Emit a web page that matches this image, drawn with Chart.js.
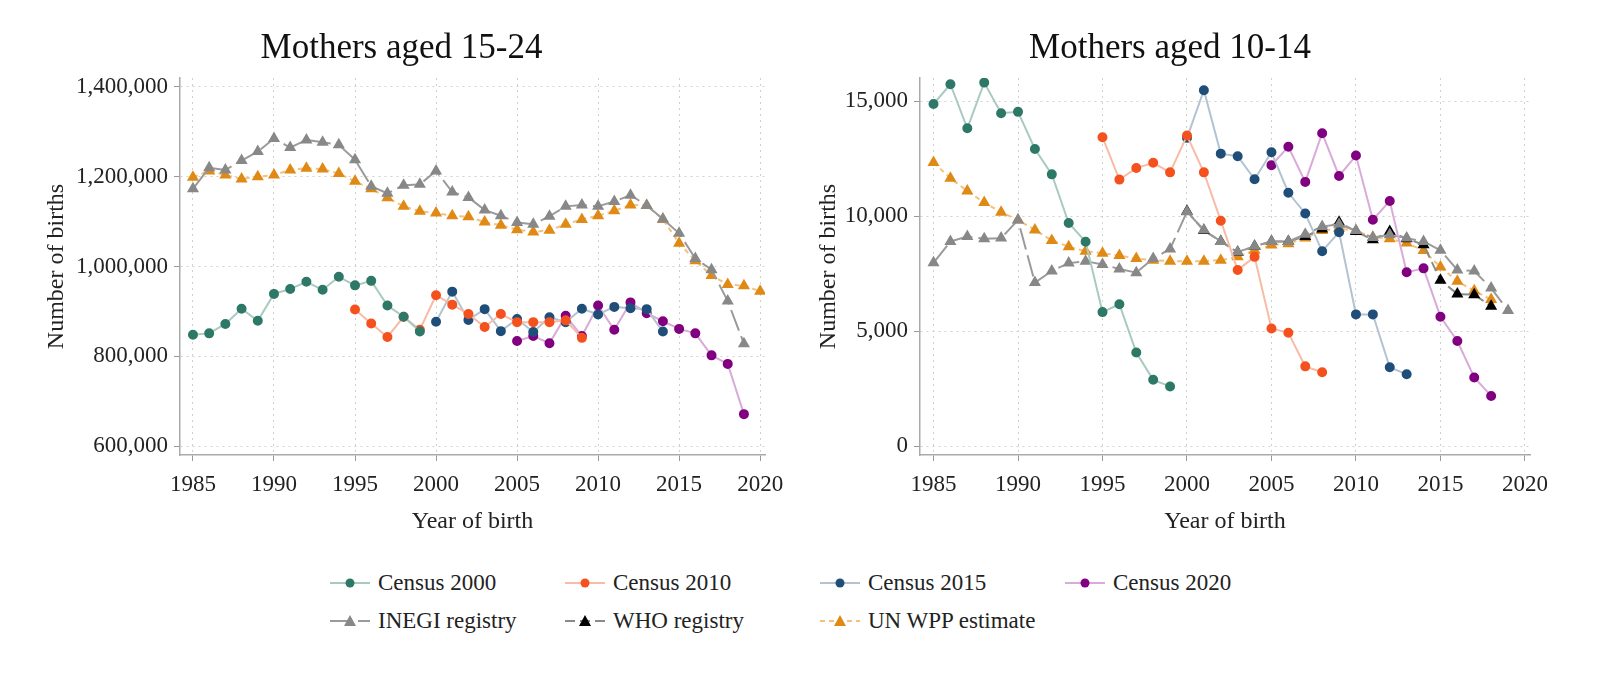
<!DOCTYPE html>
<html><head><meta charset="utf-8">
<script src="https://cdn.jsdelivr.net/npm/chart.js@4"></script>
<style>
body{margin:0;background:#fff;width:1600px;height:680px;position:relative;overflow:hidden;font-family:'Liberation Serif',serif}
.c{position:absolute;top:0;height:540px;width:800px}
.lg{position:absolute;font-size:23px;color:#222;display:flex;align-items:center;height:30px}
.lg svg{margin-right:8px}
</style></head><body>
<div class="c" style="left:0"><canvas id="a" width="800" height="540"></canvas></div>
<div class="c" style="left:800px"><canvas id="b" width="800" height="540"></canvas></div>
<div id="legend"></div>
<script>
// Left panel: mothers aged 15-24
const L_census2000 = [848,851,872,906,879,939,950,966,948,977,958,968,913,888,855].map(v=>v*1000);
const L_census2010 = [904,873,843,888,859,936,915,894,865,894,876,876,876,880,841].map(v=>v*1000);
const L_census2015 = [877,944,881,905,856,883,854,887,876,906,893,910,907,905,855].map(v=>v*1000);
const L_census2020 = [834,845,829,890,845,913,859,920,896,878,861,851,802,783,671].map(v=>v*1000);
const L_inegi = [1173,1220,1215,1236,1256,1285,1265,1282,1277,1271,1238,1179,1163,1181,1183,1213,1166,1154,1126,1113,1098,1094,1112,1134,1137,1134,1145,1159,1136,1106,1074,1018,993,923,828].map(v=>v*1000);
const L_unwpp = [1199,1213,1204,1195,1200,1204,1215,1219,1217,1207,1190,1173,1153,1134,1123,1119,1113,1111,1099,1092,1082,1077,1081,1094,1105,1113,1124,1137,1136,1105,1052,1013,980,960,957,945].map(v=>v*1000);
// Right panel: mothers aged 10-14
const R_census2000 = [14871,15729,13814,15800,14471,14529,12914,11814,9700,8886,5829,6171,4071,2886,2600];
const R_census2010 = [13429,11586,12086,12314,11900,13500,11900,9800,7657,8229,5114,4929,3471,3214];
const R_census2015 = [13400,15471,12714,12600,11600,12771,11014,10114,8471,9300,5729,5729,3429,3129];
const R_census2020 = [12214,13014,11486,13600,11743,12629,9843,10657,7557,7729,5629,4571,2986,2186];
const R_inegi = [7971,8900,9114,9014,9043,9829,7114,7614,7957,8043,7900,7700,7543,8157,8571,10186,9400,8900,8443,8686,8900,8900,9214,9543,9643,9371,9071,9186,9043,8900,8514,7657,7614,6871,5900];
const R_who = [10214,9371,8900,8429,8686,8900,8900,9114,9443,9729,9329,8971,9329,9014,8757,7214,6614,6586,6086];
const R_unwpp = [12329,11643,11086,10586,10171,9829,9400,8943,8671,8471,8386,8286,8157,8086,8043,8043,8043,8086,8229,8514,8743,8800,9043,9371,9471,9357,9086,9014,8829,8500,7786,7171,6757,6371];
const xTicks = [1985,1990,1995,2000,2005,2010,2015,2020];
const L_yTicks = [600000,800000,1000000,1200000,1400000];
const R_yTicks = [0,5000,10000,15000];

const pts=(start,arr)=>arr.map((v,i)=>({x:start+i,y:v}));
const styles={
 c2000:{label:'Census 2000',borderColor:'#a9cbbf',pointBackgroundColor:'#2e7867',pointBorderColor:'#2e7867',pointStyle:'circle',pointRadius:4,borderWidth:2},
 c2010:{label:'Census 2010',borderColor:'#f7bba6',pointBackgroundColor:'#f4511e',pointBorderColor:'#f4511e',pointStyle:'circle',pointRadius:4,borderWidth:2},
 c2015:{label:'Census 2015',borderColor:'#b3c3d1',pointBackgroundColor:'#1f4e79',pointBorderColor:'#1f4e79',pointStyle:'circle',pointRadius:4,borderWidth:2},
 c2020:{label:'Census 2020',borderColor:'#d9abd9',pointBackgroundColor:'#800080',pointBorderColor:'#800080',pointStyle:'circle',pointRadius:4,borderWidth:2},
 inegi:{label:'INEGI registry',borderColor:'#9a9a9a',pointBackgroundColor:'#888',pointBorderColor:'#888',pointStyle:'triangle',pointRadius:5,borderWidth:2,borderDash:[22,6]},
 who:{label:'WHO registry',borderColor:'#8a8a8a',pointBackgroundColor:'#000',pointBorderColor:'#000',pointStyle:'triangle',pointRadius:5,borderWidth:2,borderDash:[10,5]},
 un:{label:'UN WPP estimate',borderColor:'#f3c27d',pointBackgroundColor:'#e08a16',pointBorderColor:'#e08a16',pointStyle:'triangle',pointRadius:5,borderWidth:2,borderDash:[5,4]}
};
const ds=(k,start,arr)=>Object.assign({data:pts(start,arr),fill:false,tension:0},styles[k]);
const tickFont={family:'Liberation Serif',size:23};
const axFont={family:'Liberation Serif',size:24};
function mk(id,title,datasets,yMin,yMax,yTicks,yW,padL,padR){
 new Chart(document.getElementById(id),{type:'line',data:{datasets},
 options:{responsive:false,animation:false,layout:{padding:{right:padR,left:padL}},
  plugins:{legend:{display:false},tooltip:{enabled:false},
   title:{display:true,text:title,color:'#111',font:{family:'Liberation Serif',size:35,weight:'normal'},padding:{top:28,bottom:8}}},
  scales:{
   x:{type:'linear',min:1984.2,max:2020.3,
    afterBuildTicks:s=>{s.ticks=xTicks.map(v=>({value:v}));},
    afterFit:s=>{s.height=85;},
    ticks:{font:tickFont,color:'#222',callback:v=>String(v),maxRotation:0,padding:10},
    grid:{color:'#d0d0d0',drawTicks:true,tickLength:6,tickColor:'#999'},
    border:{display:true,color:'#aaa',width:1.5,dash:[2,4]},
    title:{display:true,text:'Year of birth',font:axFont,color:'#222',padding:{top:0}}},
   y:{min:yMin,max:yMax,
    afterBuildTicks:s=>{s.ticks=yTicks.map(v=>({value:v}));},
    afterFit:s=>{s.width=yW;},
    ticks:{font:tickFont,color:'#222',callback:v=>v.toLocaleString('en-US'),padding:6},
    grid:{color:'#d0d0d0',tickLength:6,tickColor:'#999'},
    border:{display:true,color:'#aaa',width:1.5,dash:[2,4]},
    title:{display:true,text:'Number of births',font:axFont,color:'#222',padding:{bottom:4}}}
  }}});
}
mk('a','Mothers aged 15-24',[
 ds('c2000',1985,L_census2000),ds('c2010',1995,L_census2010),ds('c2015',2000,L_census2015),ds('c2020',2005,L_census2020),
 ds('inegi',1985,L_inegi),ds('un',1985,L_unwpp)],580000,1420000,L_yTicks,142,38,35);
mk('b','Mothers aged 10-14',[
 ds('c2000',1985,R_census2000),ds('c2010',1995,R_census2010),ds('c2015',2000,R_census2015),ds('c2020',2005,R_census2020),
 ds('inegi',1985,R_inegi),ds('who',2000,R_who),ds('un',1985,R_unwpp)],-380,16000,R_yTicks,110,10,70);

// legend
const items=[['c2000',330,568],['c2010',565,568],['c2015',820,568],['c2020',1065,568],['inegi',330,606],['who',565,606],['un',820,606]];
const lg=document.getElementById('legend');
items.forEach(([k,x,y])=>{const s=styles[k];const d=document.createElement('div');d.className='lg';d.style.left=x+'px';d.style.top=y+'px';
 const dash=s.borderDash?`stroke-dasharray="${s.borderDash.join(',')}"`:'';
 const mark=s.pointStyle==='circle'?`<circle cx="20" cy="10" r="4.5" fill="${s.pointBackgroundColor}"/>`:`<polygon points="20,4 26,15 14,15" fill="${s.pointBackgroundColor}"/>`;
 d.innerHTML=`<svg width="40" height="20"><line x1="0" y1="10" x2="40" y2="10" stroke="${s.borderColor}" stroke-width="2" ${dash}/>${mark}</svg>${s.label}`;
 lg.appendChild(d);});
</script></body></html>
